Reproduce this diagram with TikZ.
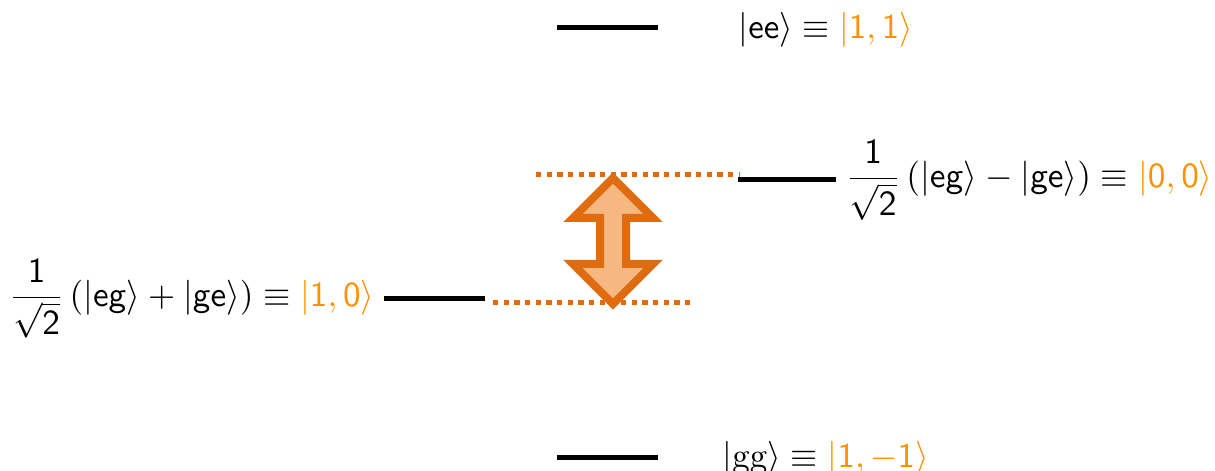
\documentclass[tikz,border=0pt]{standalone}
\usepackage{amsmath}
\usepackage{graphicx}
\definecolor{ketorange}{RGB}{255,145,0}
\definecolor{linkorange}{RGB}{224,108,18}
\definecolor{arrowfill}{RGB}{244,184,128}
\tikzset{
  level/.style={line width=1.5pt, black},
  degen/.style={line width=1.5pt, linkorange, dash pattern=on 1.6pt off 1.6pt},
  swaparrow/.style={line width=2.4pt, draw=linkorange, fill=arrowfill, line join=miter},
  lbl/.style={inner sep=0pt, font=\fontsize{10.5}{12}\selectfont},
}
\newcommand{\sket}[1]{\lvert\mathsf{#1}\rangle}
\newcommand{\oket}[1]{\textcolor{ketorange}{\lvert\mathsf{#1}\rangle}}
% set a formula to a given width (in pt)
\newcommand{\fitw}[2]{\resizebox{#1pt}{!}{$#2$}}
\begin{document}
\begin{tikzpicture}[x=0.3pt, y=-0.3pt]
  \useasboundingbox (0,0) rectangle (1215,471);

  % energy levels
  \coordinate (ee-l) at (557,28);  \coordinate (ee-r) at (658,28);
  \coordinate (s-l)  at (738,180); \coordinate (s-r)  at (836,180);
  \coordinate (t-l)  at (384,299); \coordinate (t-r)  at (485,299);
  \coordinate (gg-l) at (557,458); \coordinate (gg-r) at (658,458);

  \draw[level] (ee-l) -- (ee-r);
  \draw[level] (s-l) -- (s-r);
  \draw[level] (t-l) -- (t-r);
  \draw[level] (gg-l) -- (gg-r);

  % dotted guides to the degenerate positions
  \coordinate (s-d) at (536,175); \coordinate (s-e) at (740,175);
  \coordinate (t-d) at (493,303); \coordinate (t-e) at (690,303);
  \draw[degen] (s-d) -- (s-e);
  \draw[degen] (t-d) -- (t-e);

  % double arrow between the two dotted levels
  \draw[swaparrow] (613,178) -- (653,218) -- (626,218) -- (626,264) -- (653,264)
    -- (613,304) -- (573,264) -- (600,264) -- (600,218) -- (573,218) -- cycle;

  % labels
  \node[lbl, anchor=west] (ee-lbl) at (738,30)
    {\fitw{52.2}{\sket{ee} \equiv \oket{1,1}}};
  \node[lbl, anchor=west] (s-lbl) at (845,180)
    {\fitw{110.1}{\dfrac{\mathsf{1}}{\sqrt{\mathsf{2}}}\,(\sket{eg} - \sket{ge}) \equiv \oket{0,0}}};
  \node[lbl, anchor=east] (t-lbl) at (375,299)
    {\fitw{109.5}{\dfrac{\mathsf{1}}{\sqrt{\mathsf{2}}}\,(\sket{eg} + \sket{ge}) \equiv \oket{1,0}}};
  \node[lbl, anchor=west] (gg-lbl) at (722,459)
    {\fitw{61.8}{\lvert\mathrm{gg}\rangle \equiv \oket{1,-1}}};
\end{tikzpicture}
\end{document}
